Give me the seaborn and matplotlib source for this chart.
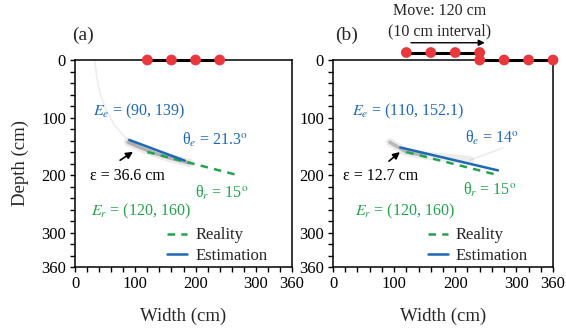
import numpy as np
import pandas as pd
import matplotlib
matplotlib.use('Agg')
import matplotlib.pyplot as plt
import seaborn as sns

# sensor positions (cm)
sensors_a = [120, 160, 200, 240]
sensors_b_before = [120, 160, 200, 240]
sensors_b_after = [240, 280, 320, 360]

# crack lines: start (x, y) and end (x, y)
real_start = (120, 160)
real_end = (270, 200.2)
est_a_start = (90, 139)
est_a_end = (182, 175)
est_b_start = (110, 152.1)
est_b_end = (270, 192)

# faint gray likelihood traces
arc_a_x = [33, 36, 42, 52, 66, 82, 100]
arc_a_y = [0, 30, 60, 88, 114, 133, 146]
blob_a_x = [88, 110, 135, 160, 190]
blob_a_y = [143, 153, 163, 171, 179]
blob_b_x = [93, 120, 150, 185, 224]
blob_b_y = [143, 160, 166, 170, 174]
streak_b_x = [224, 250, 278]
streak_b_y = [174, 164, 153]

blue = '#1f68b4'
green = '#23a34c'
red = '#e8383d'

sns.set_theme(style='ticks')
plt.rcParams['font.family'] = ['Liberation Serif', 'DejaVu Serif']
plt.rcParams['mathtext.fontset'] = 'stix'

fig = plt.figure(figsize=(5.66, 3.29), dpi=100)
ax_a = fig.add_axes([75/566, 1-267/329, 217/566, 207/329])
ax_b = fig.add_axes([333/566, 1-267/329, 220/566, 207/329])

fs = 11.5


def setup(ax):
    ax.set_xlim(0, 360)
    ax.set_ylim(360, 0)
    ticks = list(range(0, 361, 20))
    labs = [str(t) if t in (0, 100, 200, 300, 360) else '' for t in ticks]
    ax.set_xticks(ticks)
    ax.set_xticklabels(labs)
    ax.set_yticks(ticks)
    ax.set_yticklabels(labs)
    ax.tick_params(direction='out', length=3.5, width=1, labelsize=12, colors='black', pad=3)
    for s in ax.spines.values():
        s.set_linewidth(1.1)
        s.set_color('black')
    ax.set_xlabel('Width (cm)', fontsize=13.5, labelpad=11)


def line_df(p0, p1):
    return pd.DataFrame({'x': [p0[0], p1[0]], 'y': [p0[1], p1[1]]})


def draw_lines(ax, est0, est1):
    d = line_df(real_start, real_end)
    sns.lineplot(data=d, x='x', y='y', ax=ax, color=green, lw=1.8, ls=(0, (3, 2.5)),
                 sort=False, label='Reality', zorder=4)
    d = line_df(est0, est1)
    sns.lineplot(data=d, x='x', y='y', ax=ax, color=blue, lw=1.8,
                 sort=False, label='Estimation', zorder=5)


def sensors(ax, xs, y):
    d = pd.DataFrame({'x': xs, 'y': [y] * len(xs)})
    ax.plot(d.x, d.y, color='black', lw=2.2, clip_on=False, zorder=6)
    sns.scatterplot(data=d, x='x', y='y', ax=ax, color=red, s=60, edgecolor='none',
                    clip_on=False, zorder=7, legend=False)


def legend(ax):
    ax.legend(loc='lower right', bbox_to_anchor=(0.94, -0.04), frameon=False, fontsize=12,
              handlelength=1.2, handletextpad=0.5, labelspacing=0.25, borderaxespad=0.3)


# ---- panel (a)
ax = ax_a
setup(ax)
ax.plot(arc_a_x, arc_a_y, color='0.9', lw=1.2, alpha=0.7, zorder=1)
ax.plot(blob_a_x, blob_a_y, color='0.6', lw=6, alpha=0.2, solid_capstyle='round', zorder=2)
ax.plot(blob_a_x, blob_a_y, color='0.35', lw=2.5, alpha=0.4, solid_capstyle='round', zorder=2)
draw_lines(ax, est_a_start, est_a_end)
sensors(ax, sensors_a, 0)
ax.set_ylabel('Depth (cm)', fontsize=13.5, labelpad=9)
ax.text(30, 90, r'$E_e$ = (90, 139)', color=blue, fontsize=fs, va='center')
ax.text(177, 139, r'θ$_e$ = 21.3$^{\mathrm{o}}$', color=blue, fontsize=fs, va='center')
ax.text(25, 202, 'ε = 36.6 cm', color='black', fontsize=fs, va='center')
ax.text(199, 231, r'θ$_r$ = 15$^{\mathrm{o}}$', color=green, fontsize=fs, va='center')
ax.text(27, 264, r'$E_r$ = (120, 160)', color=green, fontsize=fs, va='center')
ax.annotate('', xy=(100, 157), xytext=(71, 177),
            arrowprops=dict(arrowstyle='-|>', color='black', lw=1.2, mutation_scale=10))
ax.text(13, -43, '(a)', fontsize=14, ha='center', va='center')
legend(ax)

# ---- panel (b)
ax = ax_b
setup(ax)
ax.plot(streak_b_x, streak_b_y, color='0.9', lw=1.2, alpha=0.7, zorder=1)
ax.plot(blob_b_x, blob_b_y, color='0.6', lw=6, alpha=0.18, solid_capstyle='round', zorder=2)
ax.plot(blob_b_x[:3], blob_b_y[:3], color='0.35', lw=2.5, alpha=0.35, solid_capstyle='round', zorder=2)
draw_lines(ax, est_b_start, est_b_end)
sensors(ax, sensors_b_after, 0)
sensors(ax, sensors_b_before, -13)
ax.set_ylabel('')
ax.text(31, 90, r'$E_e$ = (110, 152.1)', color=blue, fontsize=fs, va='center')
ax.text(216, 136, r'θ$_e$ = 14$^{\mathrm{o}}$', color=blue, fontsize=fs, va='center')
ax.text(16, 202, 'ε = 12.7 cm', color='black', fontsize=fs, va='center')
ax.text(213, 226, r'θ$_r$ = 15$^{\mathrm{o}}$', color=green, fontsize=fs, va='center')
ax.text(36, 264, r'$E_r$ = (120, 160)', color=green, fontsize=fs, va='center')
ax.annotate('', xy=(113, 157), xytext=(88, 179),
            arrowprops=dict(arrowstyle='-|>', color='black', lw=1.2, mutation_scale=10))
ax.annotate('', xy=(253, -30), xytext=(123, -30), annotation_clip=False,
            arrowprops=dict(arrowstyle='-|>', color='black', lw=1.0, mutation_scale=9))
ax.text(175, -85, 'Move: 120 cm', fontsize=fs, ha='center', va='center')
ax.text(175, -50, '(10 cm interval)', fontsize=fs, ha='center', va='center')
ax.text(23, -43, '(b)', fontsize=14, ha='center', va='center')
legend(ax)

fig.savefig('out.png', dpi=100)
